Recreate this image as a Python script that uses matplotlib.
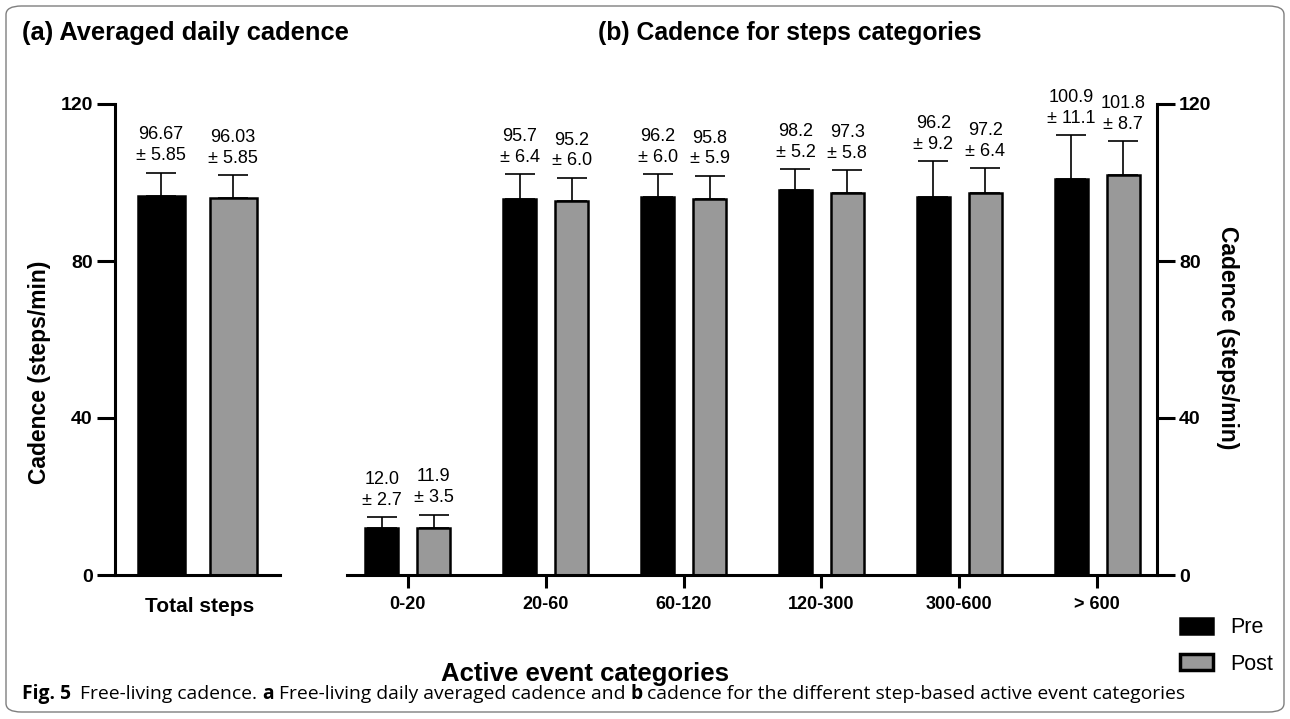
import matplotlib.pyplot as plt
import numpy as np
from matplotlib.patches import Patch, FancyBboxPatch

# panel (a): averaged daily cadence
total_labels = ['Total steps']
total_pre = [96.67]
total_pre_sd = [5.85]
total_post = [96.03]
total_post_sd = [5.85]

# panel (b): cadence per step category
cats = ['0-20', '20-60', '60-120', '120-300', '300-600', '> 600']
pre = [12.0, 95.7, 96.2, 98.2, 96.2, 100.9]
pre_sd = [2.7, 6.4, 6.0, 5.2, 9.2, 11.1]
post = [11.9, 95.2, 95.8, 97.3, 97.2, 101.8]
post_sd = [3.5, 6.0, 5.9, 5.8, 6.4, 8.7]

yticks = [0, 40, 80, 120]

plt.rcParams['font.family'] = ['Liberation Sans', 'DejaVu Sans']
W, H = 1290, 719
fig = plt.figure(figsize=(W / 100, H / 100), dpi=100)

GRAY = '#999999'
LW = 2.2


def fx(px):
    return px / W


def fy(py):
    return 1 - py / H


def style_axis(ax):
    ax.set_ylim(0, 120)
    ax.set_yticks(yticks, labels=[str(v) for v in yticks], fontsize=14, fontweight='bold')
    ax.tick_params(axis='y', length=13, width=LW, pad=3)
    ax.spines['top'].set_visible(False)


def annotate(ax, x, val, sd, fmt):
    ax.annotate(fmt.format(val) + '\n\u00b1 ' + fmt.format(sd), (x, val + sd),
                xytext=(0, 6), textcoords='offset points',
                ha='center', va='bottom', fontsize=13, linespacing=1.3)


# ---- panel a ----
axa = fig.add_axes([fx(115), fy(575), fx(280 - 115), fy(104) - fy(575)])
style_axis(axa)
axa.spines['right'].set_visible(False)
axa.spines['left'].set_linewidth(LW)
axa.spines['bottom'].set_linewidth(LW)
bw_a = 47 / 72
axa.bar([0], total_pre, bw_a, color='black', edgecolor='black', linewidth=1.8)
axa.bar([1], total_post, bw_a, color=GRAY, edgecolor='black', linewidth=1.8)
axa.errorbar([0], total_pre, yerr=[[0], total_pre_sd], fmt='none', ecolor='black',
             elinewidth=1.2, capsize=11, capthick=1.2)
axa.errorbar([1], total_post, yerr=[[0], total_post_sd], fmt='none', ecolor='black',
             elinewidth=1.2, capsize=11, capthick=1.2)
annotate(axa, 0, total_pre[0], total_pre_sd[0], '{:.2f}')
annotate(axa, 1, total_post[0], total_post_sd[0], '{:.2f}')
axa.set_xlim(-46 / 72, 1 + 47 / 72)
axa.set_xticks([])
axa.set_ylabel('Cadence (steps/min)', fontsize=16.5, fontweight='bold')
axa.yaxis.set_label_coords((51 - 115) / 165, (575 - 372) / 471)
fig.text(fx(200), fy(606), total_labels[0], ha='center', va='center',
         fontsize=15, fontweight='bold')

# ---- panel b ----
axb = fig.add_axes([fx(347), fy(575), fx(1157 - 347), fy(104) - fy(575)])
axb.yaxis.tick_right()
axb.yaxis.set_label_position('right')
style_axis(axb)
axb.spines['left'].set_visible(False)
axb.spines['right'].set_linewidth(LW)
axb.spines['bottom'].set_linewidth(LW)
x = np.arange(len(cats))
off = 26 / 138
bw_b = 33 / 138
axb.bar(x - off, pre, bw_b, color='black', edgecolor='black', linewidth=1.8)
axb.bar(x + off, post, bw_b, color=GRAY, edgecolor='black', linewidth=1.8)
axb.errorbar(x - off, pre, yerr=[np.zeros(len(pre)), pre_sd], fmt='none',
             ecolor='black', elinewidth=1.2, capsize=11, capthick=1.2)
axb.errorbar(x + off, post, yerr=[np.zeros(len(post)), post_sd], fmt='none',
             ecolor='black', elinewidth=1.2, capsize=11, capthick=1.2)
for i in range(len(cats)):
    annotate(axb, x[i] - off, pre[i], pre_sd[i], '{:.1f}')
    annotate(axb, x[i] + off, post[i], post_sd[i], '{:.1f}')
axb.set_xlim(-61 / 138, 5 + 60 / 138)
axb.set_xticks(x, labels=cats, fontsize=13, fontweight='bold')
axb.tick_params(axis='x', length=9, width=LW, pad=6)
axb.set_ylabel('Cadence (steps/min)', fontsize=16.5, fontweight='bold', rotation=-90)
axb.yaxis.set_label_coords((1239 - 347) / 810, (575 - 338) / 471)

fig.text(fx(585), fy(674), 'Active event categories', ha='center', va='center',
         fontsize=18.5, fontweight='bold')

# titles
fig.text(fx(22), fy(33), '(a) Averaged daily cadence', ha='left', va='center',
         fontsize=18.4, fontweight='bold')
fig.text(fx(598), fy(33), '(b) Cadence for steps categories', ha='left', va='center',
         fontsize=17.8, fontweight='bold')

# legend
handles = [Patch(facecolor='black', edgecolor='black', linewidth=1.8, label='Pre'),
           Patch(facecolor=GRAY, edgecolor='black', linewidth=2.5, label='Post')]
fig.legend(handles=handles, loc='center left', bbox_to_anchor=(fx(1180), fy(646)),
           frameon=False, fontsize=15.5, handlelength=1.55, handleheight=0.8,
           labelspacing=0.7, handletextpad=0.8, borderpad=0, borderaxespad=0)

# caption, written piece by piece so bold letters sit inline
fig.canvas.draw()
r = fig.canvas.get_renderer()
pieces = [('Fig. 5', 'bold', 22), ('Free-living cadence. ', 'normal', 80), ('a', 'bold', None),
          (' Free-living daily averaged cadence and ', 'normal', None), ('b', 'bold', None),
          (' cadence for the different step-based active event categories', 'normal', None)]
xpos = 22
for s, w, start in pieces:
    if start is not None:
        xpos = start
    t = fig.text(fx(xpos), fy(694), s, ha='left', va='center', fontsize=13.9,
                 fontweight=w, family=['Open Sans', 'DejaVu Sans'])
    xpos += t.get_window_extent(renderer=r).width

# rounded frame
frame = FancyBboxPatch((fx(6), fy(712)), fx(1278), fy(6) - fy(712),
                       boxstyle='round,pad=0,rounding_size=0.012',
                       transform=fig.transFigure, facecolor='none',
                       edgecolor='#7f7f7f', linewidth=1.0)
fig.patches.append(frame)

fig.savefig('out.png', dpi=100)
